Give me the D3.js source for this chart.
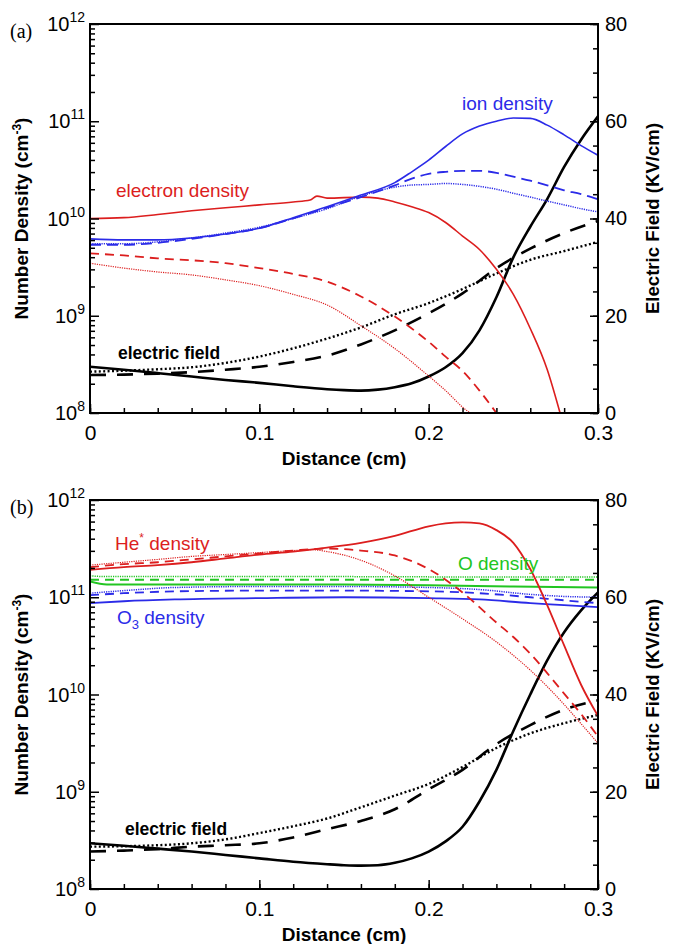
<!DOCTYPE html>
<html>
<head>
<meta charset="utf-8">
<script src="https://cdn.jsdelivr.net/npm/d3@7"></script>
<style>
  body { margin: 0; background: #fff; }
  svg { display: block; font-family: "Liberation Sans", Arial, sans-serif; }
</style>
</head>
<body>
<script>
// ---- panel (a): electron / ion densities (cm^-3) vs distance (cm)
const xElecSolA = [0, 0.02, 0.04, 0.06, 0.08, 0.1, 0.12, 0.13, 0.134, 0.14, 0.16, 0.17, 0.18, 0.19, 0.2, 0.21, 0.22, 0.23, 0.24, 0.25, 0.26, 0.27, 0.2776];
const elecSolA = [1.0e10, 1.02e10, 1.10e10, 1.20e10, 1.29e10, 1.38e10, 1.48e10, 1.55e10, 1.70e10, 1.62e10, 1.66e10, 1.62e10, 1.48e10, 1.32e10, 1.15e10, 9.1e9, 6.6e9, 4.8e9, 3.0e9, 1.66e9, 7.4e8, 2.8e8, 1.0e8];
const xElecDashA = [0, 0.02, 0.04, 0.06, 0.08, 0.1, 0.12, 0.14, 0.16, 0.18, 0.2, 0.21, 0.22, 0.23, 0.24];
const elecDashA = [4.37e9, 4.17e9, 3.89e9, 3.72e9, 3.47e9, 3.09e9, 2.69e9, 2.24e9, 1.58e9, 9.8e8, 5.4e8, 3.8e8, 2.7e8, 1.7e8, 1.0e8];
const xElecDotA = [0, 0.02, 0.04, 0.06, 0.08, 0.1, 0.12, 0.14, 0.16, 0.18, 0.2, 0.21, 0.22, 0.2244];
const elecDotA = [3.47e9, 3.09e9, 2.82e9, 2.63e9, 2.34e9, 2.04e9, 1.66e9, 1.29e9, 7.9e8, 4.6e8, 2.4e8, 1.7e8, 1.15e8, 1.0e8];

const xIonA = [0, 0.02, 0.04, 0.06, 0.08, 0.1, 0.12, 0.14, 0.16, 0.18, 0.19, 0.2, 0.21, 0.22, 0.23, 0.24, 0.25, 0.26, 0.27, 0.28, 0.29, 0.3];
const ionSolA = [6.17e9, 6.03e9, 6.03e9, 6.31e9, 6.92e9, 7.94e9, 1.02e10, 1.32e10, 1.74e10, 2.34e10, 3.02e10, 3.98e10, 5.50e10, 7.41e10, 8.91e10, 1.0e11, 1.08e11, 1.07e11, 9.12e10, 7.24e10, 5.62e10, 4.47e10];
const ionDashA = [5.37e9, 5.37e9, 5.62e9, 6.17e9, 6.92e9, 7.94e9, 1.0e10, 1.29e10, 1.66e10, 2.19e10, 2.57e10, 2.88e10, 3.02e10, 3.09e10, 3.09e10, 2.95e10, 2.69e10, 2.45e10, 2.19e10, 1.95e10, 1.78e10, 1.58e10];
const ionDotA = [5.50e9, 5.50e9, 5.75e9, 6.31e9, 7.08e9, 8.13e9, 1.0e10, 1.26e10, 1.70e10, 2.10e10, 2.21e10, 2.24e10, 2.29e10, 2.24e10, 2.14e10, 2.0e10, 1.82e10, 1.66e10, 1.51e10, 1.38e10, 1.26e10, 1.17e10];

// electric field (kV/cm), right axis
const xFieldSolA = [0, 0.02, 0.04, 0.06, 0.08, 0.1, 0.12, 0.14, 0.15, 0.16, 0.17, 0.18, 0.19, 0.2, 0.21, 0.22, 0.23, 0.24, 0.25, 0.26, 0.27, 0.28, 0.29, 0.3];
const fieldSolA = [9.5, 8.9, 8.2, 7.5, 6.8, 6.2, 5.5, 4.9, 4.7, 4.6, 4.8, 5.3, 6.1, 7.5, 9.4, 12.3, 17.0, 23.8, 32.0, 38.3, 44.0, 50.6, 56.2, 61.0];
const xFieldA = [0, 0.02, 0.04, 0.06, 0.08, 0.1, 0.12, 0.14, 0.16, 0.18, 0.2, 0.22, 0.24, 0.26, 0.28, 0.3];
const fieldDashA = [7.8, 7.9, 8.1, 8.4, 8.9, 9.5, 10.5, 11.8, 14.1, 17.0, 20.5, 24.6, 29.8, 33.8, 37.0, 39.5];
const fieldDotA = [8.5, 8.7, 9.0, 9.4, 10.3, 11.6, 13.3, 15.3, 17.6, 20.3, 22.6, 25.5, 28.7, 31.5, 33.3, 35.2];

// ---- panel (b): He*, O, O3 densities
const xHeSolB = [0, 0.02, 0.04, 0.06, 0.08, 0.1, 0.12, 0.14, 0.16, 0.18, 0.2, 0.21, 0.22, 0.23, 0.24, 0.25, 0.26, 0.27, 0.28, 0.29, 0.3];
const heSolB = [1.91e11, 2.04e11, 2.14e11, 2.29e11, 2.51e11, 2.75e11, 2.95e11, 3.24e11, 3.63e11, 4.27e11, 5.37e11, 5.75e11, 5.89e11, 5.75e11, 4.90e11, 3.63e11, 1.95e11, 8.3e10, 3.2e10, 1.26e10, 6.0e9];
const xHeDashB = [0, 0.02, 0.04, 0.06, 0.08, 0.1, 0.12, 0.14, 0.16, 0.18, 0.2, 0.22, 0.24, 0.25, 0.26, 0.27, 0.28, 0.29, 0.3];
const heDashB = [2.04e11, 2.19e11, 2.29e11, 2.45e11, 2.63e11, 2.82e11, 3.02e11, 3.16e11, 3.02e11, 2.69e11, 1.95e11, 1.12e11, 5.5e10, 3.9e10, 2.63e10, 1.66e10, 1.02e10, 6.3e9, 3.7e9];
const xHeDotB = [0, 0.02, 0.04, 0.06, 0.08, 0.1, 0.12, 0.13, 0.14, 0.16, 0.18, 0.2, 0.22, 0.24, 0.26, 0.28, 0.29, 0.3];
const heDotB = [2.14e11, 2.29e11, 2.45e11, 2.63e11, 2.75e11, 2.88e11, 3.02e11, 3.09e11, 2.95e11, 2.40e11, 1.66e11, 1.0e11, 6.0e10, 3.47e10, 1.78e10, 7.9e9, 5.0e9, 3.16e9];

const xOB = [0, 0.01, 0.05, 0.1, 0.15, 0.2, 0.25, 0.3];
const oSolB = [1.45e11, 1.35e11, 1.35e11, 1.35e11, 1.35e11, 1.33e11, 1.29e11, 1.26e11];
const oDashB = [1.51e11, 1.51e11, 1.51e11, 1.51e11, 1.51e11, 1.51e11, 1.51e11, 1.51e11];
const oDotB = [1.66e11, 1.63e11, 1.63e11, 1.63e11, 1.63e11, 1.62e11, 1.62e11, 1.62e11];

const xO3B = [0, 0.02, 0.05, 0.1, 0.15, 0.2, 0.23, 0.26, 0.28, 0.3];
const o3SolB = [8.7e10, 9.1e10, 9.5e10, 9.8e10, 1.0e11, 9.8e10, 9.5e10, 8.7e10, 8.3e10, 7.9e10];
const o3DashB = [1.05e11, 1.10e11, 1.15e11, 1.17e11, 1.17e11, 1.15e11, 1.10e11, 1.0e11, 9.3e10, 8.7e10];
const o3DotB = [1.10e11, 1.17e11, 1.26e11, 1.29e11, 1.29e11, 1.26e11, 1.20e11, 1.07e11, 1.02e11, 1.0e11];

const xFieldSolB = [0, 0.02, 0.04, 0.06, 0.08, 0.1, 0.12, 0.14, 0.15, 0.16, 0.17, 0.18, 0.19, 0.2, 0.21, 0.22, 0.23, 0.24, 0.25, 0.26, 0.27, 0.28, 0.29, 0.3];
const fieldSolB = [9.4, 8.9, 8.3, 7.7, 7.0, 6.3, 5.6, 5.1, 4.9, 4.8, 4.9, 5.4, 6.3, 7.7, 9.8, 12.8, 18.0, 24.5, 32.5, 40.0, 47.0, 52.8, 57.3, 61.0];
const xFieldB = [0, 0.02, 0.04, 0.06, 0.08, 0.1, 0.12, 0.14, 0.16, 0.18, 0.2, 0.22, 0.24, 0.26, 0.28, 0.3];
const fieldDashB = [7.7, 7.9, 8.2, 8.7, 9.0, 9.4, 10.6, 12.3, 14.0, 16.4, 20.5, 24.5, 29.8, 33.7, 36.9, 38.8];
const fieldDotB = [8.7, 8.8, 9.0, 9.4, 10.2, 11.5, 12.9, 14.5, 16.8, 19.2, 21.6, 25.1, 29.0, 32.0, 34.1, 35.8];

// axis ticks
const distTicks = [0, 0.1, 0.2, 0.3];
const densityDecades = [8, 9, 10, 11, 12];
const fieldTicks = [0, 20, 40, 60, 80];

// ---- styles
const RED = '#dc1e1e', BLUE = '#2b2be8', GREEN = '#22c522', BLACK = '#000';
const SOLID = null, DASH = '9,6', DOT = '1.2,1.1';

const W = 675, H = 944;
const LEFT = 90, RIGHT = 598;

const svg = d3.select('body').append('svg')
    .attr('width', W)
    .attr('height', H);

const panels = [
  {
    key: 'a', top: 24, bottom: 413, label: '(a)',
    density: [
      { x: xElecSolA, v: elecSolA, color: RED, w: 1.6, dash: SOLID },
      { x: xElecDashA, v: elecDashA, color: RED, w: 1.8, dash: DASH },
      { x: xElecDotA, v: elecDotA, color: RED, w: 1.2, dash: DOT },
      { x: xIonA, v: ionDotA, color: BLUE, w: 1.5, dash: DOT },
      { x: xIonA, v: ionDashA, color: BLUE, w: 1.8, dash: '11,6' },
      { x: xIonA, v: ionSolA, color: BLUE, w: 1.6, dash: SOLID }
    ],
    field: [
      { x: xFieldA, v: fieldDotA, w: 2.4, dash: '2,2.4' },
      { x: xFieldA, v: fieldDashA, w: 2.6, dash: '16,11' },
      { x: xFieldSolA, v: fieldSolA, w: 2.6, dash: SOLID }
    ],
    notes: [
      { x: 116, y: 197, color: RED, parts: [['electron density']] },
      { x: 462, y: 110, color: BLUE, parts: [['ion density']] },
      { x: 118, y: 359, color: BLACK, bold: true, parts: [['electric field']] }
    ]
  },
  {
    key: 'b', top: 500, bottom: 889, label: '(b)',
    density: [
      { x: xO3B, v: o3DotB, color: BLUE, w: 1.5, dash: DOT },
      { x: xO3B, v: o3DashB, color: BLUE, w: 1.8, dash: DASH },
      { x: xO3B, v: o3SolB, color: BLUE, w: 1.8, dash: SOLID },
      { x: xOB, v: oDotB, color: GREEN, w: 1.5, dash: DOT },
      { x: xOB, v: oDashB, color: GREEN, w: 2, dash: DASH },
      { x: xOB, v: oSolB, color: GREEN, w: 2, dash: SOLID },
      { x: xHeDotB, v: heDotB, color: RED, w: 1.2, dash: DOT },
      { x: xHeDashB, v: heDashB, color: RED, w: 1.8, dash: DASH },
      { x: xHeSolB, v: heSolB, color: RED, w: 1.8, dash: SOLID }
    ],
    field: [
      { x: xFieldB, v: fieldDotB, w: 2.4, dash: '2,2.4' },
      { x: xFieldB, v: fieldDashB, w: 2.6, dash: '16,11' },
      { x: xFieldSolB, v: fieldSolB, w: 2.6, dash: SOLID }
    ],
    notes: [
      { x: 115, y: 550, color: RED, parts: [['He'], ['*', 'sup'], [' density']] },
      { x: 458, y: 570, color: GREEN, parts: [['O density']] },
      { x: 117, y: 624, color: BLUE, parts: [['O'], ['3', 'sub'], [' density']] },
      { x: 125, y: 835, color: BLACK, bold: true, parts: [['electric field']] }
    ]
  }
];

const x = d3.scaleLinear().domain([0, 0.3]).range([LEFT, RIGHT]);

panels.forEach(p => {
  const y = d3.scaleLog().domain([1e8, 1e12]).range([p.bottom, p.top]);
  const yE = d3.scaleLinear().domain([0, 80]).range([p.bottom, p.top]);
  const g = svg.append('g');

  const clipId = 'clip-' + p.key;
  svg.append('defs').append('clipPath').attr('id', clipId)
    .append('rect')
      .attr('x', LEFT).attr('y', p.top)
      .attr('width', RIGHT - LEFT).attr('height', p.bottom - p.top);

  const plot = g.append('g').attr('clip-path', `url(#${clipId})`);

  const lineD = d3.line().x(d => x(d[0])).y(d => y(d[1])).curve(d3.curveMonotoneX);
  const lineE = d3.line().x(d => x(d[0])).y(d => yE(d[1])).curve(d3.curveMonotoneX);

  p.field.forEach(s => {
    plot.append('path')
      .attr('d', lineE(d3.zip(s.x, s.v)))
      .attr('fill', 'none')
      .attr('stroke', BLACK)
      .attr('stroke-width', s.w)
      .attr('stroke-dasharray', s.dash);
  });

  p.density.forEach(s => {
    plot.append('path')
      .attr('d', lineD(d3.zip(s.x, s.v)))
      .attr('fill', 'none')
      .attr('stroke', s.color)
      .attr('stroke-width', s.w)
      .attr('stroke-dasharray', s.dash);
  });

  // axes: ticks all point inward
  const minorDensity = [];
  densityDecades.slice(0, -1).forEach(e => {
    for (let k = 2; k <= 9; k++) minorDensity.push(k * Math.pow(10, e));
  });
  const minorDist = d3.range(0, 0.3001, 0.02);
  const minorField = d3.range(0, 80.1, 5);

  const styleAxis = sel => {
    sel.select('.domain').remove();
    sel.selectAll('line').attr('stroke', BLACK).attr('stroke-width', 1.5);
  };

  g.append('g').attr('transform', `translate(${LEFT},0)`)
    .call(d3.axisLeft(y).tickValues(minorDensity).tickSizeInner(-5).tickSizeOuter(0).tickFormat(''))
    .call(styleAxis);
  g.append('g').attr('transform', `translate(${LEFT},0)`)
    .call(d3.axisLeft(y).tickValues(densityDecades.map(e => Math.pow(10, e))).tickSizeInner(-9).tickSizeOuter(0).tickFormat(''))
    .call(styleAxis);

  g.append('g').attr('transform', `translate(0,${p.bottom})`)
    .call(d3.axisBottom(x).tickValues(minorDist).tickSizeInner(-5).tickSizeOuter(0).tickFormat(''))
    .call(styleAxis);
  const bottomAx = g.append('g').attr('transform', `translate(0,${p.bottom})`)
    .call(d3.axisBottom(x).tickValues(distTicks).tickSizeInner(-9).tickSizeOuter(0).tickPadding(12)
      .tickFormat(d => d === 0 ? '0' : d3.format('.1f')(d)))
    .call(styleAxis);
  bottomAx.selectAll('text')
    .attr('font-family', '"Liberation Sans", Arial, sans-serif')
    .attr('font-size', 21).attr('fill', BLACK);

  g.append('g').attr('transform', `translate(${RIGHT},0)`)
    .call(d3.axisRight(yE).tickValues(minorField).tickSizeInner(-5).tickSizeOuter(0).tickFormat(''))
    .call(styleAxis);
  const rightAx = g.append('g').attr('transform', `translate(${RIGHT},0)`)
    .call(d3.axisRight(yE).tickValues(fieldTicks).tickSizeInner(-8).tickSizeOuter(0).tickPadding(7))
    .call(styleAxis);
  rightAx.selectAll('text')
    .attr('font-family', '"Liberation Sans", Arial, sans-serif')
    .attr('font-size', 20).attr('fill', BLACK);

  // 10^n labels on the log axis
  densityDecades.forEach(e => {
    const t = g.append('text')
      .attr('x', 85).attr('y', y(Math.pow(10, e)) + 7)
      .attr('text-anchor', 'end')
      .attr('font-size', 20);
    t.append('tspan').text('10');
    t.append('tspan').attr('dy', -9).attr('font-size', 14).text(e);
  });

  // frame
  g.append('rect')
    .attr('x', LEFT).attr('y', p.top)
    .attr('width', RIGHT - LEFT).attr('height', p.bottom - p.top)
    .attr('fill', 'none').attr('stroke', BLACK).attr('stroke-width', 2);

  // axis titles
  const midY = (p.top + p.bottom) / 2;
  const leftTitle = g.append('text')
    .attr('transform', `translate(21,${midY}) rotate(-90)`)
    .attr('text-anchor', 'middle').attr('dy', '0.35em')
    .attr('font-size', 19).attr('font-weight', 'bold');
  leftTitle.append('tspan').text('Number Density (cm');
  leftTitle.append('tspan').attr('dy', -7).attr('font-size', 12).text('-3');
  leftTitle.append('tspan').attr('dy', 7).text(')');

  g.append('text')
    .attr('transform', `translate(652,${midY}) rotate(-90)`)
    .attr('text-anchor', 'middle').attr('dy', '0.35em')
    .attr('font-size', 18.6).attr('font-weight', 'bold')
    .text('Electric Field (KV/cm)');

  g.append('text')
    .attr('x', 344).attr('y', p.bottom + 52)
    .attr('text-anchor', 'middle')
    .attr('font-size', 19).attr('font-weight', 'bold')
    .text('Distance (cm)');

  g.append('text')
    .attr('x', 10).attr('y', p.top + 14)
    .attr('font-family', '"Liberation Serif", "Times New Roman", serif')
    .attr('font-size', 20)
    .text(p.label);

  // curve annotations
  p.notes.forEach(n => {
    const t = g.append('text')
      .attr('x', n.x).attr('y', n.y)
      .attr('fill', n.color)
      .attr('font-size', n.bold ? 17.5 : 19)
      .attr('font-weight', n.bold ? 'bold' : 'normal');
    n.parts.forEach(([txt, kind]) => {
      const ts = t.append('tspan').text(txt);
      if (kind === 'sup') ts.attr('dy', -8).attr('font-size', 12);
      if (kind === 'sub') ts.attr('dy', 5).attr('font-size', 13);
      if (!kind && t.selectAll('tspan').size() > 1) {
        const prev = n.parts[t.selectAll('tspan').size() - 2][1];
        if (prev === 'sup') ts.attr('dy', 8);
        if (prev === 'sub') ts.attr('dy', -5);
      }
    });
  });
});
</script>
</body>
</html>
